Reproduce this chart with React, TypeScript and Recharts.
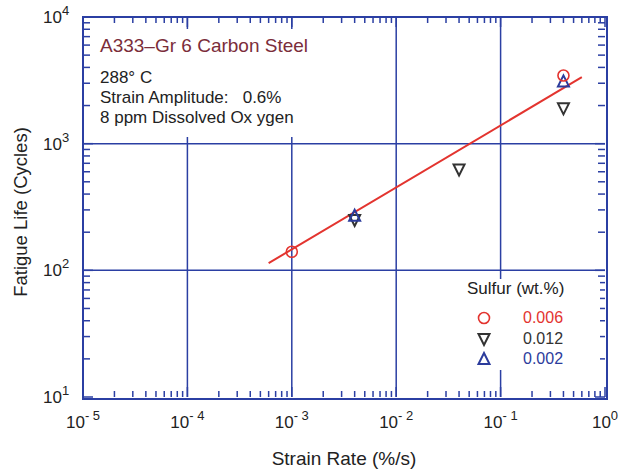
import { ScatterChart, Scatter, XAxis, YAxis, ReferenceLine } from 'recharts';

const BLUE = '#2b3fa3';
const RED = '#e3342f';
const GRAY = '#333333';
const NAVY = '#2c3c9c';
const FONT = '"Liberation Sans", Arial, sans-serif';

// fatigue life (cycles) vs strain rate (%/s)
const sulfur006 = [
  { rate: 0.001, life: 140 },
  { rate: 0.4, life: 3450 },
];
const sulfur012 = [
  { rate: 0.004, life: 250 },
  { rate: 0.04, life: 625 },
  { rate: 0.4, life: 1900 },
];
const sulfur002 = [
  { rate: 0.004, life: 270 },
  { rate: 0.4, life: 3100 },
];
const fitLine = [
  { rate: 0.0006, life: 114 },
  { rate: 0.6, life: 3350 },
];

const xDecades = [-5, -4, -3, -2, -1, 0];
const yDecades = [1, 2, 3, 4];
const legendRows = [
  { label: '0.006', color: RED, shape: 'circle' },
  { label: '0.012', color: GRAY, shape: 'down' },
  { label: '0.002', color: NAVY, shape: 'up' },
];

const CHART_W = 620;
const CHART_H = 470;
const M = { top: 17, right: 15, left: 83, bottom: 73 };
const PLOT_W = CHART_W - M.left - M.right;
const PLOT_H = CHART_H - M.top - M.bottom;

// decade ticks plus 2..9 minor ticks
const logTicks = (decades: number[]) => {
  const out: number[] = [];
  decades.slice(0, -1).forEach((d) => {
    for (let m = 1; m < 10; m++) out.push(m * Math.pow(10, d));
  });
  out.push(Math.pow(10, decades[decades.length - 1]));
  return out;
};
const xTicks = logTicks(xDecades);
const yTicks = logTicks(yDecades);
const xMajor = xDecades.map((d) => Math.pow(10, d));
const yMajor = yDecades.map((d) => Math.pow(10, d));
const xMin = xMajor[0];
const xMax = xMajor[xMajor.length - 1];
const yMin = yMajor[0];
const yMax = yMajor[yMajor.length - 1];

const isMajor = (v: number) => {
  const e = Math.log10(v);
  return Math.abs(e - Math.round(e)) < 1e-6;
};
const expText = (v: number) => {
  const e = Math.round(Math.log10(v));
  return e < 0 ? `- ${-e}` : `${e}`;
};

// offset (px, up from the bottom of the frame) of a y value on the log axis
const yOffset = (v: number) =>
  ((Math.log10(v) - yDecades[0]) / (yDecades[yDecades.length - 1] - yDecades[0])) * PLOT_H;

// bottom axis tick: inward marks at bottom and top of the frame, label on decades;
// the first tick also carries the left/right inward marks of the y axis
function BottomTick({ x, y, payload }: any) {
  const v = payload.value;
  const major = isMajor(v);
  const len = major ? 10 : 6;
  return (
    <g>
      <line x1={x} x2={x} y1={y} y2={y - len} stroke={BLUE} strokeWidth={1.5} />
      <line x1={x} x2={x} y1={y - PLOT_H} y2={y - PLOT_H + len} stroke={BLUE} strokeWidth={1.5} />
      {major && (
        <text x={x} y={y + 31} textAnchor="middle" fontFamily={FONT} fontSize={17} fill="#222">
          <tspan>10</tspan>
          <tspan dy={-8} fontSize={13}>{expText(v)}</tspan>
        </text>
      )}
      {Math.abs(v - xMin) < 1e-12 &&
        yTicks.map((t) => {
          const ty = y - yOffset(t);
          const l = isMajor(t) ? 10 : 7;
          return (
            <g key={t}>
              <line x1={x} x2={x + l} y1={ty} y2={ty} stroke={BLUE} strokeWidth={1.5} />
              <line x1={x + PLOT_W} x2={x + PLOT_W - l} y1={ty} y2={ty} stroke={BLUE} strokeWidth={1.5} />
            </g>
          );
        })}
    </g>
  );
}

function LeftLabel({ x, y, payload }: any) {
  return (
    <text x={x - 40} y={y + 6} fontFamily={FONT} fontSize={17} fill="#222">
      <tspan>10</tspan>
      <tspan dy={-8} fontSize={13}>{expText(payload.value)}</tspan>
    </text>
  );
}

const CircleMark = ({ cx, cy }: any) => (
  <circle cx={cx} cy={cy} r={5.5} fill="none" stroke={RED} strokeWidth={1.6} />
);
const DownMark = ({ cx, cy }: any) => (
  <path d={`M${cx - 5.5},${cy - 5} L${cx + 5.5},${cy - 5} L${cx},${cy + 6} Z`} fill="none" stroke={GRAY} strokeWidth={2} />
);
const UpMark = ({ cx, cy }: any) => (
  <path d={`M${cx - 5.5},${cy + 5} L${cx + 5.5},${cy + 5} L${cx},${cy - 6} Z`} fill="none" stroke={NAVY} strokeWidth={2} />
);
const NoMark = () => <g />;

function LegendSymbol({ shape }: { shape: string }) {
  const p = { cx: 8, cy: 8 };
  return (
    <svg width={16} height={16} style={{ position: 'absolute', left: 0, top: 0 }}>
      {shape === 'circle' ? <CircleMark {...p} /> : shape === 'down' ? <DownMark {...p} /> : <UpMark {...p} />}
    </svg>
  );
}

const abs = (left: number, top: number, extra: any = {}) => ({
  position: 'absolute' as const,
  left,
  top,
  lineHeight: 1,
  whiteSpace: 'pre' as const,
  fontFamily: FONT,
  ...extra,
});

export default function App() {
  return (
    <div style={{ position: 'fixed', left: 0, top: 0, width: CHART_W, height: CHART_H, background: '#fff' }}>
      <ScatterChart width={CHART_W} height={CHART_H} margin={{ top: M.top, right: M.right, left: 0, bottom: 0 }}>
        <XAxis
          dataKey="rate"
          type="number"
          scale="log"
          domain={[xMin, xMax]}
          ticks={xTicks}
          interval={0}
          height={M.bottom}
          tickSize={0}
          tickMargin={0}
          axisLine={false}
          tickLine={false}
          tick={<BottomTick />}
        />
        <YAxis
          dataKey="life"
          type="number"
          scale="log"
          domain={[yMin, yMax]}
          ticks={yMajor}
          interval={0}
          width={M.left}
          tickSize={0}
          tickMargin={0}
          axisLine={false}
          tickLine={false}
          tick={<LeftLabel />}
        />

        {/* decade grid */}
        {xMajor.slice(1, -1).map((v) => (
          <ReferenceLine key={`xg${v}`} x={v} stroke={BLUE} strokeWidth={1.5} />
        ))}
        {yMajor.slice(1, -1).map((v) => (
          <ReferenceLine key={`yg${v}`} y={v} stroke={BLUE} strokeWidth={1.5} />
        ))}

        <Scatter data={fitLine} line={{ stroke: RED, strokeWidth: 2 }} shape={<NoMark />} isAnimationActive={false} />
        <Scatter data={sulfur012} shape={<DownMark />} isAnimationActive={false} />
        <Scatter data={sulfur002} shape={<UpMark />} isAnimationActive={false} />
        <Scatter data={sulfur006} shape={<CircleMark />} isAnimationActive={false} />
      </ScatterChart>

      {/* plot frame */}
      <div style={abs(M.left - 1, M.top - 1, { width: PLOT_W, height: PLOT_H, border: `2px solid ${BLUE}`, boxSizing: 'content-box' })} />

      {/* annotation block, white box breaks the grid lines */}
      <div style={abs(93, 29, { width: 224, height: 108, background: '#fff' })} />
      <div style={abs(100, 36, { fontSize: 19, color: '#7b2d3a' })}>A333–Gr 6 Carbon Steel</div>
      <div style={abs(100, 69, { fontSize: 17, color: '#222' })}>288° C</div>
      <div style={abs(100, 89, { fontSize: 17, color: '#222' })}>Strain Amplitude:   0.6%</div>
      <div style={abs(100, 109, { fontSize: 17, color: '#222' })}>8 ppm Dissolved Ox ygen</div>

      {/* legend */}
      <div style={abs(458, 279, { width: 142, height: 91, background: '#fff' })} />
      <div style={abs(467, 280, { fontSize: 17, color: '#222' })}>Sulfur (wt.%)</div>
      {legendRows.map((r, i) => (
        <div key={r.label}>
          <div style={abs(476, 310 + i * 20.5, { width: 16, height: 16 })}>
            <LegendSymbol shape={r.shape} />
          </div>
          <div style={abs(523, 310 + i * 20.5, { fontSize: 16, color: r.color })}>{r.label}</div>
        </div>
      ))}

      {/* axis titles */}
      <div style={abs(344, 458, { fontSize: 19, color: '#222', transform: 'translate(-50%, -50%)' })}>
        Strain Rate (%/s)
      </div>
      <div
        style={abs(21, 212, {
          fontSize: 18.5,
          color: '#222',
          transform: 'translate(-50%, -50%) rotate(-90deg)',
        })}
      >
        Fatigue Life (Cycles)
      </div>
    </div>
  );
}
